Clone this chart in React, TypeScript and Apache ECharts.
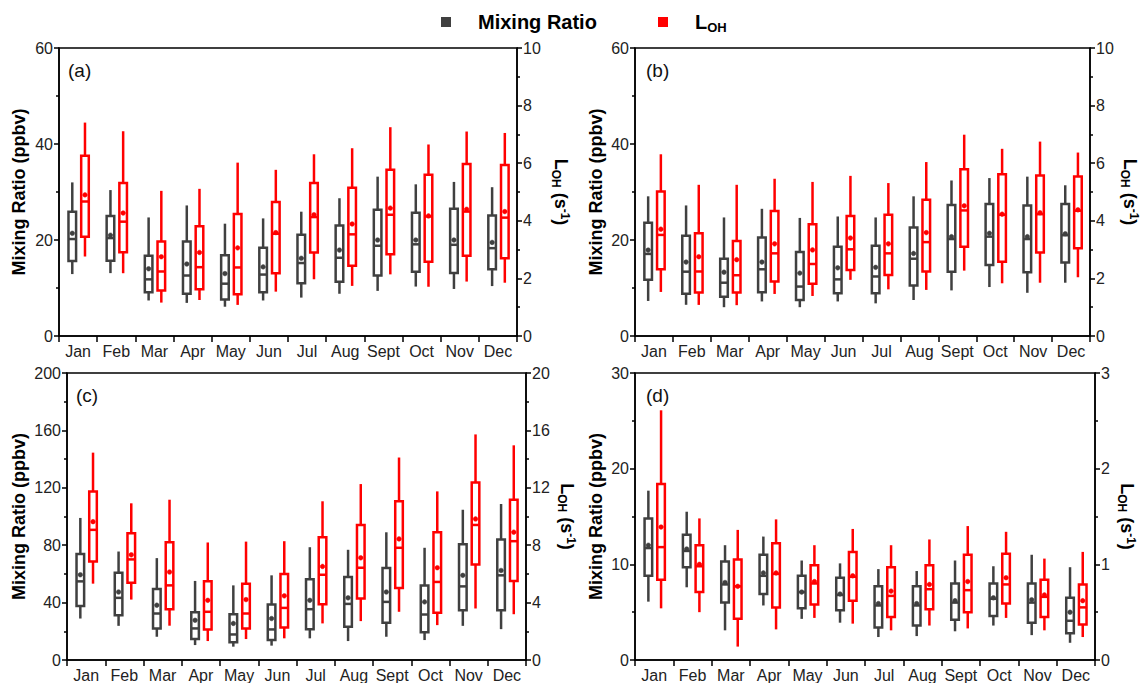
import React, { useEffect, useRef } from "react";
import * as echarts from "echarts";

const months = ["Jan", "Feb", "Mar", "Apr", "May", "Jun", "Jul", "Aug", "Sept", "Oct", "Nov", "Dec"];

// each row: [min, q1, median, q3, max, mean]
const mixingA = [
  [12.9, 15.6, 20.2, 25.9, 32.0, 21.4],
  [13.1, 15.7, 20.4, 25.0, 30.4, 21.0],
  [7.4, 9.1, 11.8, 16.7, 24.7, 14.0],
  [6.9, 8.8, 12.6, 19.7, 27.2, 15.0],
  [6.1, 7.6, 10.9, 16.8, 23.4, 13.0],
  [7.4, 9.1, 12.8, 18.4, 24.5, 14.4],
  [8.0, 11.0, 15.2, 21.1, 25.9, 16.2],
  [8.8, 11.3, 16.3, 23.0, 28.7, 17.9],
  [9.4, 12.6, 18.8, 26.3, 33.2, 20.0],
  [10.3, 13.4, 19.1, 25.7, 31.6, 20.0],
  [9.8, 13.1, 19.0, 26.5, 32.1, 20.0],
  [10.4, 13.9, 18.3, 25.1, 31.0, 19.5],
];
const lohA = [
  [2.76, 3.45, 4.67, 6.26, 7.41, 4.9],
  [2.18, 2.91, 3.97, 5.31, 7.11, 4.27],
  [1.16, 1.58, 2.24, 3.28, 5.04, 2.75],
  [1.25, 1.62, 2.39, 3.81, 5.11, 2.9],
  [1.08, 1.45, 2.38, 4.24, 6.02, 3.06],
  [1.54, 2.18, 3.55, 4.65, 5.77, 3.59],
  [1.97, 2.9, 4.13, 5.31, 6.31, 4.21],
  [1.74, 2.44, 3.53, 5.15, 6.52, 3.89],
  [2.14, 2.84, 4.21, 5.77, 7.25, 4.44],
  [1.71, 2.58, 4.15, 5.6, 6.65, 4.17],
  [1.89, 2.79, 4.32, 5.97, 7.1, 4.4],
  [1.85, 2.7, 4.11, 5.94, 7.05, 4.32],
];
const mixingB = [
  [7.3, 11.7, 17.1, 23.6, 29.1, 17.9],
  [6.5, 8.8, 13.4, 20.9, 27.2, 15.4],
  [6.0, 8.2, 11.1, 16.1, 24.7, 13.3],
  [7.2, 9.1, 13.9, 20.5, 26.5, 15.4],
  [6.0, 7.5, 10.3, 17.5, 24.6, 13.1],
  [7.2, 8.9, 11.8, 18.6, 24.9, 14.2],
  [6.8, 8.9, 12.4, 18.8, 24.7, 14.3],
  [7.5, 10.5, 16.1, 22.6, 29.1, 17.2],
  [9.5, 13.4, 20.2, 27.3, 32.4, 20.7],
  [10.2, 14.8, 20.7, 27.5, 32.9, 21.4],
  [9.0, 13.3, 20.2, 27.2, 33.2, 20.7],
  [11.1, 15.3, 21.0, 27.5, 31.4, 21.3],
];
const lohB = [
  [1.53, 2.32, 3.51, 5.02, 6.31, 3.71],
  [1.08, 1.51, 2.24, 3.57, 5.25, 2.75],
  [1.07, 1.51, 2.11, 3.3, 5.25, 2.65],
  [1.46, 1.89, 2.87, 4.34, 5.46, 3.2],
  [1.39, 1.81, 2.5, 3.88, 5.35, 2.99],
  [1.95, 2.29, 3.01, 4.17, 5.56, 3.4],
  [1.62, 2.12, 2.87, 4.21, 5.31, 3.2],
  [1.6, 2.24, 3.26, 4.73, 6.04, 3.59],
  [2.27, 3.1, 4.36, 5.79, 6.99, 4.52],
  [1.83, 2.58, 4.21, 5.62, 6.5, 4.23],
  [1.85, 2.9, 4.23, 5.57, 6.75, 4.28],
  [2.04, 3.05, 4.35, 5.54, 6.37, 4.38],
];
const mixingC = [
  [28.9, 37.7, 54.8, 73.8, 99.0, 59.4],
  [23.8, 31.2, 43.3, 60.8, 75.6, 47.4],
  [16.2, 22.0, 32.4, 49.5, 71.0, 38.2],
  [10.4, 14.6, 22.0, 33.3, 55.1, 27.7],
  [9.3, 12.3, 17.8, 31.9, 52.0, 25.5],
  [10.0, 13.9, 21.3, 38.6, 59.0, 28.9],
  [15.1, 21.5, 35.4, 56.2, 78.6, 41.6],
  [13.2, 23.2, 39.1, 57.8, 76.8, 43.3],
  [16.2, 25.9, 40.5, 64.1, 89.0, 47.4],
  [13.9, 19.4, 31.7, 52.0, 78.2, 40.5],
  [23.8, 34.7, 51.3, 80.7, 104.7, 59.0],
  [21.5, 34.7, 59.0, 84.0, 108.7, 62.4],
];
const lohC = [
  [5.32, 6.87, 9.07, 11.75, 14.45, 9.64],
  [4.21, 5.39, 7.01, 8.84, 10.92, 7.33],
  [2.39, 3.54, 5.2, 8.21, 11.17, 6.13],
  [1.32, 2.13, 3.36, 5.48, 8.19, 4.16],
  [1.46, 2.2, 3.24, 5.32, 8.25, 4.21],
  [1.51, 2.27, 3.63, 5.99, 8.28, 4.47],
  [2.55, 3.88, 5.94, 8.56, 11.06, 6.52],
  [2.71, 4.28, 6.43, 9.41, 12.26, 7.12],
  [3.36, 5.02, 7.82, 11.06, 14.11, 8.44],
  [2.43, 3.29, 5.44, 8.91, 11.75, 6.43],
  [3.59, 6.66, 9.41, 12.37, 15.72, 9.83],
  [3.19, 5.51, 8.28, 11.17, 14.96, 8.91],
];
const mixingD = [
  [6.1, 8.8, 11.7, 14.8, 17.7, 12.0],
  [7.6, 9.7, 11.4, 13.1, 15.5, 11.6],
  [3.1, 6.0, 7.9, 10.3, 12.0, 8.1],
  [5.7, 6.9, 8.8, 11.0, 12.9, 9.1],
  [4.3, 5.4, 7.1, 8.8, 10.4, 7.1],
  [3.9, 5.2, 6.8, 8.6, 10.1, 6.9],
  [2.4, 3.4, 5.7, 7.7, 9.5, 5.9],
  [2.5, 3.6, 5.7, 7.7, 9.3, 5.9],
  [3.0, 4.2, 6.0, 8.0, 10.4, 6.2],
  [3.6, 4.6, 6.4, 8.0, 9.8, 6.5],
  [2.6, 3.9, 6.0, 8.0, 11.0, 6.3],
  [1.8, 2.8, 4.1, 6.5, 9.7, 5.0],
];
const lohD = [
  [0.54, 0.84, 1.18, 1.84, 2.61, 1.39],
  [0.5, 0.71, 0.98, 1.2, 1.48, 1.0],
  [0.14, 0.43, 0.77, 1.05, 1.36, 0.77],
  [0.32, 0.55, 0.9, 1.22, 1.47, 0.91],
  [0.44, 0.58, 0.8, 0.99, 1.2, 0.82],
  [0.38, 0.62, 0.87, 1.13, 1.37, 0.88],
  [0.31, 0.45, 0.67, 0.97, 1.2, 0.72],
  [0.36, 0.53, 0.74, 0.99, 1.26, 0.79],
  [0.33, 0.5, 0.73, 1.1, 1.4, 0.82],
  [0.44, 0.59, 0.79, 1.11, 1.34, 0.86],
  [0.31, 0.45, 0.66, 0.84, 1.06, 0.68],
  [0.24, 0.37, 0.55, 0.79, 1.13, 0.62],
];

const leftMaxes = [60, 60, 200, 30];
const leftIntervals = [20, 20, 40, 10];
const rightMaxes = [10, 10, 20, 3];
const rightIntervals = [2, 2, 4, 1];
const panelLetters = ["(a)", "(b)", "(c)", "(d)"];

const FONT = "Liberation Sans";
const DARK = "#404040";
const RED = "#ff0000";

const panels = [
  { mix: mixingA, loh: lohA, grid: { left: 59, top: 48, width: 458, height: 288 }, lGap: 31, rGap: 33 },
  { mix: mixingB, loh: lohB, grid: { left: 635, top: 48, width: 459, height: 288 }, lGap: 30, rGap: 29 },
  { mix: mixingC, loh: lohC, grid: { left: 67, top: 373, width: 459, height: 288 }, lGap: 39, rGap: 30 },
  { mix: mixingD, loh: lohD, grid: { left: 635, top: 373, width: 460, height: 288 }, lGap: 30, rGap: 21 },
];

function makeRender(offset: number, color: string) {
  return (params: any, api: any) => {
    const xi = api.value(0);
    const pt = (v: number) => api.coord([xi, v]);
    const pMin = pt(api.value(1));
    const pQ1 = pt(api.value(2));
    const pMed = pt(api.value(3));
    const pQ3 = pt(api.value(4));
    const pMax = pt(api.value(5));
    const pMean = pt(api.value(6));
    const cx = pMin[0] + offset;
    const hw = 3.8;
    const st = { stroke: color, lineWidth: 2.5, fill: "transparent" };
    return {
      type: "group",
      children: [
        { type: "line", shape: { x1: cx, y1: pMax[1], x2: cx, y2: pQ3[1] }, style: st },
        { type: "line", shape: { x1: cx, y1: pQ1[1], x2: cx, y2: pMin[1] }, style: st },
        { type: "rect", shape: { x: cx - hw, y: pQ3[1], width: 2 * hw, height: pQ1[1] - pQ3[1] }, style: st },
        { type: "line", shape: { x1: cx - hw, y1: pMed[1], x2: cx + hw, y2: pMed[1] }, style: st },
        { type: "circle", shape: { cx, cy: pMean[1], r: 2.3 }, style: { fill: color, stroke: color, lineWidth: 0.5 } },
      ],
    };
  };
}

const axisLineStyle = { color: "#000", width: 1.5 };
const labelStyle = { fontFamily: FONT, fontSize: 16, color: "#222" };

const lohName = "{b|L}{s|OH}{b| (s}{p|-1}{b|)}";
const lohRich = {
  b: { fontFamily: FONT, fontSize: 18, fontWeight: "bold", color: "#000" },
  s: { fontFamily: FONT, fontSize: 12, fontWeight: "bold", color: "#000", padding: [9, 0, 0, 0] },
  p: { fontFamily: FONT, fontSize: 12, fontWeight: "bold", color: "#000", padding: [0, 0, 9, 0] },
};

export default function App() {
  const ref = useRef<HTMLDivElement>(null);
  useEffect(() => {
    if (!ref.current) return;
    const chart = echarts.init(ref.current, null, { renderer: "svg" });
    const grid: any[] = [];
    const xAxis: any[] = [];
    const yAxis: any[] = [];
    const series: any[] = [];
    const graphic: any[] = [];
    panels.forEach((p, k) => {
      grid.push({ ...p.grid, show: true, borderColor: "#000", borderWidth: 1.5, backgroundColor: "transparent" });
      xAxis.push({
        type: "category",
        gridIndex: k,
        data: months,
        boundaryGap: true,
        axisLine: { lineStyle: axisLineStyle },
        axisTick: { show: true, alignWithLabel: false, length: 6, lineStyle: axisLineStyle },
        axisLabel: { ...labelStyle, interval: 0, margin: 7 },
        splitLine: { show: false },
      });
      yAxis.push({
        type: "value",
        gridIndex: k,
        position: "left",
        min: 0,
        max: leftMaxes[k],
        interval: leftIntervals[k],
        name: "Mixing Ratio (ppbv)",
        nameLocation: "middle",
        nameGap: p.lGap,
        nameTextStyle: { fontFamily: FONT, fontSize: 18, fontWeight: "bold", color: "#000" },
        axisLine: { show: true, lineStyle: axisLineStyle },
        axisTick: { show: true, length: 5, lineStyle: axisLineStyle },
        minorTick: { show: true, splitNumber: 2, length: 3, lineStyle: { color: "#000", width: 1.5 } },
        axisLabel: { ...labelStyle, margin: 6 },
        splitLine: { show: false },
      });
      yAxis.push({
        type: "value",
        gridIndex: k,
        position: "right",
        min: 0,
        max: rightMaxes[k],
        interval: rightIntervals[k],
        name: lohName,
        nameLocation: "middle",
        nameRotate: -90,
        nameGap: p.rGap,
        nameTextStyle: { rich: lohRich },
        axisLine: { show: true, lineStyle: axisLineStyle },
        axisTick: { show: true, length: 5, lineStyle: axisLineStyle },
        minorTick: { show: true, splitNumber: 2, length: 3, lineStyle: { color: "#000", width: 1.5 } },
        axisLabel: { ...labelStyle, margin: 6 },
        splitLine: { show: false },
      });
      series.push({
        type: "custom",
        name: "Mixing Ratio",
        xAxisIndex: k,
        yAxisIndex: 2 * k,
        renderItem: makeRender(-5.8, DARK),
        encode: { x: 0, y: [1, 2, 3, 4, 5, 6] },
        data: p.mix.map((r, i) => [i, ...r]),
      });
      series.push({
        type: "custom",
        name: "LOH",
        xAxisIndex: k,
        yAxisIndex: 2 * k + 1,
        renderItem: makeRender(6.9, RED),
        encode: { x: 0, y: [1, 2, 3, 4, 5, 6] },
        data: p.loh.map((r, i) => [i, ...r]),
      });
      graphic.push({
        type: "text",
        left: p.grid.left + 9 + (k % 2 === 1 ? 2 : 0),
        top: p.grid.top + 13,
        style: { text: panelLetters[k], fontFamily: FONT, fontSize: 19, fill: "#111" },
      });
    });
    graphic.push(
      { type: "rect", shape: { x: 441, y: 17, width: 10, height: 10 }, style: { fill: DARK } },
      {
        type: "text",
        x: 478,
        y: 22,
        style: { text: "Mixing Ratio", fontFamily: FONT, fontSize: 20, fontWeight: "bold", fill: "#000", verticalAlign: "middle" },
      },
      { type: "rect", shape: { x: 658, y: 17, width: 10, height: 10 }, style: { fill: RED } },
      {
        type: "text",
        x: 695,
        y: 22,
        style: {
          text: "{b|L}{s|OH}",
          verticalAlign: "middle",
          rich: {
            b: { fontFamily: FONT, fontSize: 20, fontWeight: "bold", fill: "#000" },
            s: { fontFamily: FONT, fontSize: 13, fontWeight: "bold", fill: "#000", padding: [10, 0, 0, 0] },
          },
        },
      }
    );
    chart.setOption({
      animation: false,
      backgroundColor: "#fff",
      grid,
      xAxis,
      yAxis,
      series,
      graphic,
    });
    return () => chart.dispose();
  }, []);
  return <div ref={ref} style={{ position: "absolute", left: 0, top: 0, width: 1141, height: 683 }} />;
}
